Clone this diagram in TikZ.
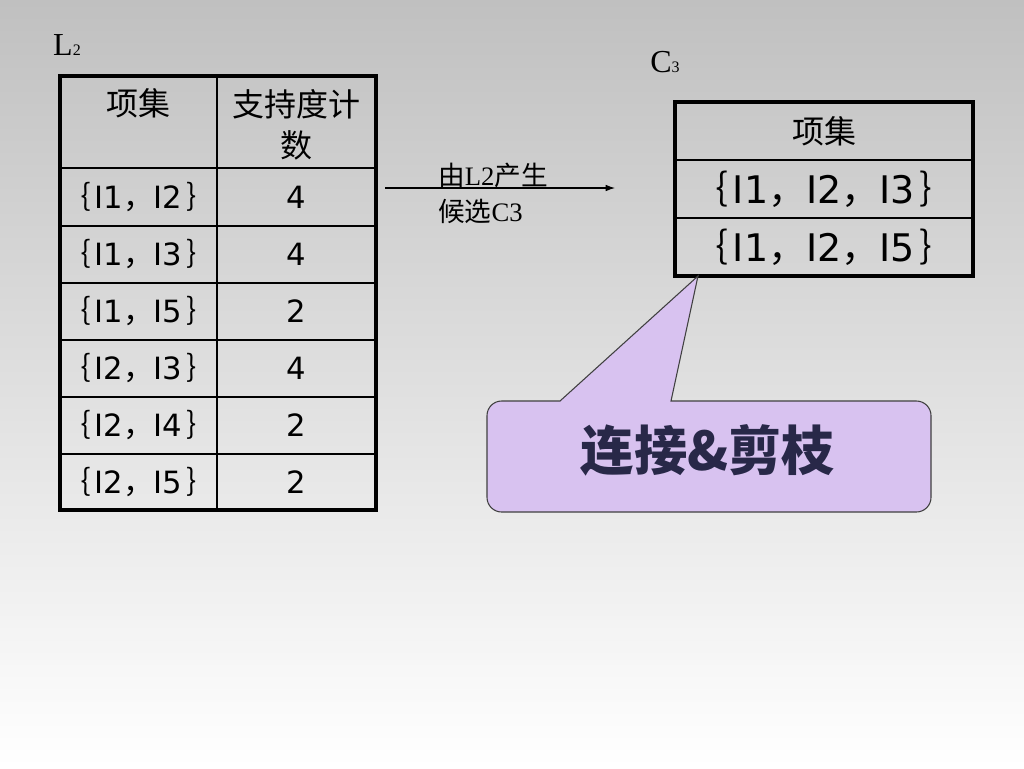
\documentclass[tikz,border=0pt]{standalone}
\usepackage{fontspec}
\usepackage{xcolor}
\usetikzlibrary{positioning,arrows.meta,calc}
\setmainfont{Liberation Serif}
\newfontfamily\cjk{Noto Sans CJK SC}
\newfontfamily\cellfont{DejaVu Sans}
\definecolor{calloutfill}{RGB}{216,194,240}
\definecolor{callouttext}{RGB}{40,40,72}
\definecolor{bgtop}{RGB}{192,192,192}
% full-width brackets and comma
\newcommand{\lbr}{{\cjk ｛}\hspace{0.12em}}
\newcommand{\rbr}{\hspace{0.12em}{\cjk ｝}}
\newcommand{\cma}{{\cjk ，}}
\tikzset{
  cell/.style={inner sep=0pt,font=\cellfont\fontsize{23}{27}\selectfont},
  bigcell/.style={inner sep=0pt,font=\cellfont\fontsize{28.5}{32}\selectfont},
  head/.style={inner sep=0pt,align=center,font=\cjk\fontsize{24}{31}\selectfont},
  outer/.style={line width=2.3pt},
  inner/.style={line width=1.1pt},
  setlabel/.style={inner sep=0pt,font=\fontsize{24}{28}\selectfont},
}

\begin{document}
\begin{tikzpicture}[x=0.75pt,y=-0.75pt]
    % Background
    \useasboundingbox (0,0) rectangle (1024,768);
    \shade[top color=bgtop,bottom color=white] (0,0) rectangle (1024,768);

    % Labels of the two tables
    \node[setlabel] (lbl2) at (67,45) {L{\fontsize{12}{14}\selectfont 2}};
    \node[setlabel] (lblc3) at (665,62) {C{\fontsize{12}{14}\selectfont 3}};

    % L2 table (left)
    \draw[inner] (217,76) -- (217,510);
    \draw[inner] (60,168) -- (376,168);
    \draw[inner] (60,226) -- (376,226);
    \draw[inner] (60,283) -- (376,283);
    \draw[inner] (60,340) -- (376,340);
    \draw[inner] (60,397) -- (376,397);
    \draw[inner] (60,454) -- (376,454);
    \draw[outer] (60,76) rectangle (376,510);
    \node[head] (lhset) at (138.5,103) {项集};
    \node[head] (lhsup) at (296.5,125) {支持度计\\数};
    \node[cell] (l1a) at (138.5,197) {\lbr I1\cma I2\rbr};
    \node[cell] (l1b) at (296.5,197) {4};
    \node[cell] (l2a) at (138.5,254.5) {\lbr I1\cma I3\rbr};
    \node[cell] (l2b) at (296.5,254.5) {4};
    \node[cell] (l3a) at (138.5,311.5) {\lbr I1\cma I5\rbr};
    \node[cell] (l3b) at (296.5,311.5) {2};
    \node[cell] (l4a) at (138.5,368.5) {\lbr I2\cma I3\rbr};
    \node[cell] (l4b) at (296.5,368.5) {4};
    \node[cell] (l5a) at (138.5,425.5) {\lbr I2\cma I4\rbr};
    \node[cell] (l5b) at (296.5,425.5) {2};
    \node[cell] (l6a) at (138.5,482) {\lbr I2\cma I5\rbr};
    \node[cell] (l6b) at (296.5,482) {2};

    % C3 table (right)
    \draw[inner] (675,160) -- (973,160);
    \draw[inner] (675,218) -- (973,218);
    \draw[outer] (675,102) rectangle (973,276);
    \node[head] (rhset) at (824,131) {项集};
    \node[bigcell] (r1) at (824,189) {\lbr I1\cma I2\cma I3\rbr};
    \node[bigcell] (r2) at (824,247) {\lbr I1\cma I2\cma I5\rbr};

    % Arrow from L2 to C3
    \coordinate (arrS) at (385,188);
    \coordinate (arrE) at (615,188);
    \draw[line width=0.8pt,-{Latex[length=7pt,width=5pt]}] (arrS) -- (arrE);
    \node[anchor=west,inner sep=0pt,align=left,font=\fontsize{20}{27}\selectfont] (arrlbl) at (438,193)
        {{\cjk 由}L2{\cjk 产生}\\{\cjk 候选}C3};

    % Callout
    \coordinate (tip) at (698,276);
    \draw[fill=calloutfill,draw=black!75,line width=0.8pt]
        (671,401) [rounded corners=11pt] -- (931,401) -- (931,512) -- (487,512) -- (487,401)
        [sharp corners] -- (560,401) -- (tip) -- cycle;
    \node[callouttext,inner sep=0pt,font=\cjk\bfseries\fontsize{40}{44}\selectfont] (prune) at (708,450) {连接\&剪枝};
\end{tikzpicture}
\end{document}
